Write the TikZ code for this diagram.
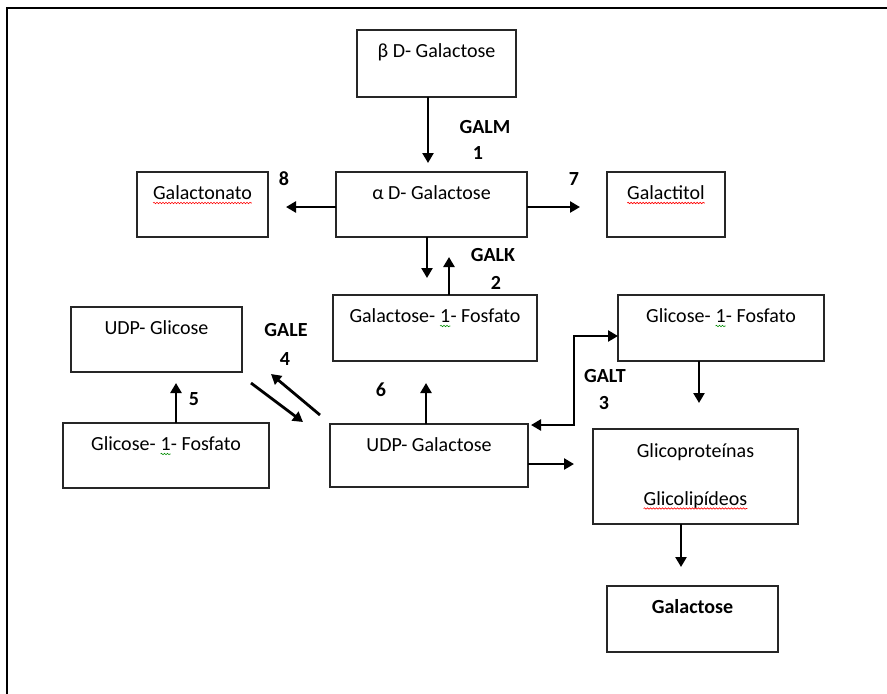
\documentclass[tikz,border=0pt]{standalone}
\usepackage{fontspec}
\setmainfont{Carlito}
\usetikzlibrary{arrows.meta,decorations.pathmorphing}
\newcommand\sqmark[2]{\tikz[baseline=(sqw.base)]{\node[inner sep=0pt,outer sep=0pt,anchor=base](sqw){#2};\draw[#1,line width=0.6pt,decorate,decoration={snake,amplitude=0.7pt,segment length=3pt}]([yshift=-3.5pt]sqw.base west)--([yshift=-3.5pt]sqw.base east);}}
\begin{document}
\begin{tikzpicture}[x=1pt,y=-1pt,
 box/.style={draw=black!85,line width=1.3pt,inner sep=0pt,outer sep=0pt,rectangle},
 txt/.style={font=\fontsize{20}{24}\selectfont,inner sep=0pt,anchor=base,text=black},
 lab/.style={font=\fontsize{20}{24}\selectfont\bfseries,inner sep=0pt,text=black},
 arr/.style={line width=2.8pt,-{Triangle[length=10pt,width=11pt]}},
 darr/.style={line width=2.8pt,{Triangle[length=10pt,width=11pt]}-{Triangle[length=10pt,width=11pt]}},
 frm/.style={line width=1.8pt,black}]
\useasboundingbox (0,0) rectangle (887,694);
\draw[frm] (7,694) -- (7,8) -- (887,8);

% boxes
\node[box,minimum width=159pt,minimum height=67pt] (beta) at (436.5,63.5) {};
\node[txt] (betat) at ([yshift=-27.5pt]beta.north) {β D- Galactose};
\node[box,minimum width=191pt,minimum height=65pt] (alpha) at (431.5,204.5) {};
\node[txt] (alphat) at ([yshift=-27.5pt]alpha.north) {α D- Galactose};
\node[box,minimum width=131pt,minimum height=65pt] (gnato) at (202.5,204.5) {};
\node[txt] (gnatot) at ([yshift=-27.5pt]gnato.north) {\sqmark{red}{Galactonato}};
\node[box,minimum width=118pt,minimum height=65pt] (gtol) at (666,204.5) {};
\node[txt] (gtolt) at ([yshift=-27.5pt]gtol.north) {\sqmark{red}{Galactitol}};
\node[box,minimum width=204pt,minimum height=66pt] (g1p) at (435,328) {};
\node[txt] (g1pt) at ([yshift=-27.5pt]g1p.north) {Galactose- \sqmark{green!55!black}{1}- Fosfato};
\node[box,minimum width=206pt,minimum height=66pt] (gcR) at (721,328) {};
\node[txt] (gcRt) at ([yshift=-27.5pt]gcR.north) {Glicose- \sqmark{green!55!black}{1}- Fosfato};
\node[box,minimum width=171pt,minimum height=65pt] (udpg) at (156.5,339.5) {};
\node[txt] (udpgt) at ([yshift=-27.5pt]udpg.north) {UDP- Glicose};
\node[box,minimum width=206pt,minimum height=65pt] (gcL) at (166,455.5) {};
\node[txt] (gcLt) at ([yshift=-27.5pt]gcL.north) {Glicose- \sqmark{green!55!black}{1}- Fosfato};
\node[box,minimum width=198pt,minimum height=63pt] (udpgal) at (429,455.5) {};
\node[txt] (udpgalt) at ([yshift=-27.5pt]udpgal.north) {UDP- Galactose};
\node[box,minimum width=205pt,minimum height=95pt] (gp) at (695.5,476.5) {};
\node[txt] (gpt1) at ([yshift=-28pt]gp.north) {Glicoproteínas};
\node[txt] (gpt2) at ([yshift=-76pt]gp.north) {\sqmark{red}{Glicolipídeos}};
\node[box,minimum width=171pt,minimum height=66pt] (gal) at (692.5,619) {};
\node[txt,font=\fontsize{20}{24}\selectfont\bfseries] (galt) at ([yshift=-27.5pt]gal.north) {Galactose};

% connectors
\draw[arr] ([xshift=-8.5pt]beta.south) -- ([xshift=-3.5pt,yshift=9pt]alpha.north);
\draw[arr] ([xshift=-4.5pt]alpha.south) -- ([xshift=-8pt,yshift=17pt]g1p.north);
\draw[arr] ([xshift=14pt]g1p.north) -- ([xshift=17.5pt,yshift=-20pt]alpha.south);
\draw[arr] ([yshift=-2.5pt]alpha.west) -- ([xshift=18pt,yshift=-2.5pt]gnato.east);
\draw[arr] ([yshift=-2.5pt]alpha.east) -- ([xshift=-27pt,yshift=-2.5pt]gtol.west);
\draw[arr] ([xshift=-3pt]udpgal.north) -- ([xshift=-9pt,yshift=-22pt]g1p.south);
\draw[arr] ([xshift=10pt]gcL.north) -- ([xshift=19.5pt,yshift=-11pt]udpg.south);
\draw[arr] ([xshift=9pt,yshift=-11pt]udpg.south east) -- ([xshift=-27pt,yshift=2pt]udpgal.north west);
\draw[arr] ([xshift=-10pt,yshift=9pt]udpgal.north west) -- ([xshift=29pt,yshift=-2pt]udpg.south east);
\draw[darr] ([xshift=3pt,yshift=-1pt]udpgal.north east) -| ([xshift=-44pt,yshift=-8pt]gcR.west) -- ([yshift=-8pt]gcR.west);
\draw[arr] ([xshift=-22pt]gcR.south) -- ([xshift=3.5pt,yshift=26pt]gp.north);
\draw[arr] ([yshift=-8.5pt]udpgal.east) -- ([xshift=-19pt,yshift=12.5pt]gp.west);
\draw[arr] ([xshift=-14.5pt]gp.south) -- ([xshift=-11.5pt,yshift=19pt]gal.north);

% labels
\node[lab] (galm) at (485,127) {GALM};
\node[lab] (n1) at (478,153) {1};
\node[lab] (galk) at (493,255) {GALK};
\node[lab] (n2) at (496,283) {2};
\node[lab] (gale) at (286,330) {GALE};
\node[lab] (n4) at (285,359) {4};
\node[lab] (n5) at (194,399) {5};
\node[lab] (n6) at (381,390) {6};
\node[lab] (galt2) at (605,376) {GALT};
\node[lab] (n3) at (604,403) {3};
\node[lab] (n8) at (284,179) {8};
\node[lab] (n7) at (574,179) {7};
\end{tikzpicture}
\end{document}
